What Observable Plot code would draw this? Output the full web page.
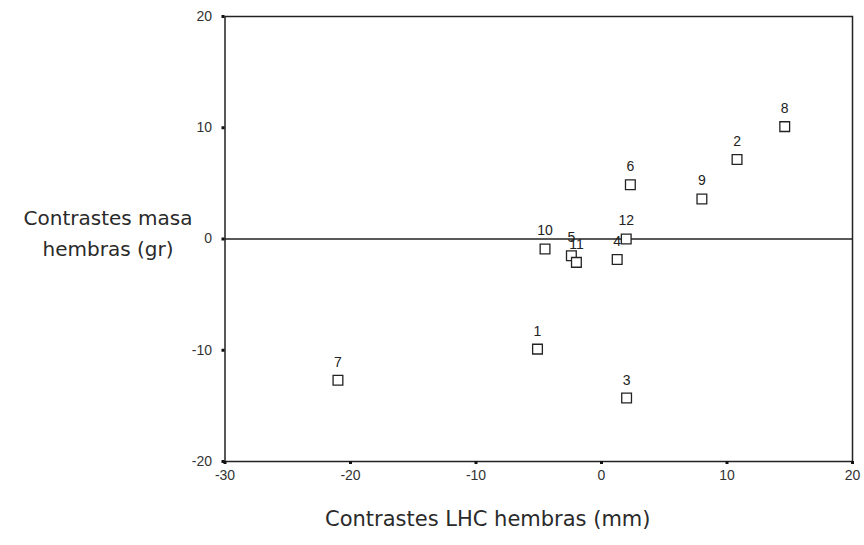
<!DOCTYPE html>
<html>
<head>
<meta charset="utf-8">
<script src="https://cdn.jsdelivr.net/npm/d3@7"></script>
<script src="https://cdn.jsdelivr.net/npm/@observablehq/plot@0.6"></script>
<style>
  html, body { margin: 0; padding: 0; background: white; }
</style>
</head>
<body>
<div id="chart"></div>
<script>
const ids  = ["1", "2", "3", "4", "5", "6", "7", "8", "9", "10", "11", "12"];
const lhc  = [-5.1, 10.8, 2.0, 1.25, -2.4, 2.3, -21.0, 14.6, 8.0, -4.5, -2.0, 1.97];
const masa = [-9.9, 7.15, -14.3, -1.85, -1.5, 4.87, -12.7, 10.1, 3.6, -0.9, -2.1, 0.0];
const xTicks = [-30, -20, -10, 0, 10, 20];
const yTicks = [-20, -10, 0, 10, 20];
const xTitle = "Contrastes LHC hembras (mm)";
const yTitle = "Contrastes masa\nhembras (gr)";

const data = ids.map((id, i) => ({id, x: lhc[i], y: masa[i]}));
const fmt = d => String(d);

const chart = Plot.plot({
  width: 864,
  height: 545,
  marginLeft: 224.5,
  marginRight: 12,
  marginTop: 16,
  marginBottom: 84,
  x: {domain: [-30, 20], label: null},
  y: {domain: [-20, 20], label: null},
  style: {background: "white", fontFamily: "Liberation Sans, Arial, sans-serif", fontSize: "14px", color: "#333"},
  marks: [
    Plot.frame({stroke: "#222", strokeWidth: 1.5}),
    Plot.ruleY([0], {stroke: "#222", strokeWidth: 1.3}),
    Plot.axisX({ticks: xTicks, tickFormat: fmt, tickSize: 3, tickPadding: 6, strokeWidth: 3, stroke: "#111", label: null, fill: "#333", fontSize: 14}),
    Plot.axisY({ticks: yTicks, tickFormat: fmt, tickSize: 3, tickPadding: 10, strokeWidth: 3, stroke: "#111", label: null, fill: "#333", fontSize: 14}),
    Plot.dot(data, {x: "x", y: "y", symbol: "square", r: 5.5, stroke: "#222", fill: "white", strokeWidth: 1.3}),
    Plot.text(data, {x: "x", y: "y", text: "id", dy: -18, fontSize: 14, fill: "#222"}),
    Plot.text([xTitle], {frameAnchor: "bottom", dy: 64, dx: -51, fontSize: 21, fill: "#2a2a2a", fontFamily: "DejaVu Sans, sans-serif"}),
    Plot.text([yTitle], {frameAnchor: "left", textAnchor: "middle", dx: -117, dy: -8, fontSize: 20, lineHeight: 1.55, fill: "#2a2a2a", fontFamily: "DejaVu Sans, sans-serif"})
  ]
});
document.getElementById("chart").append(chart);
</script>
</body>
</html>
